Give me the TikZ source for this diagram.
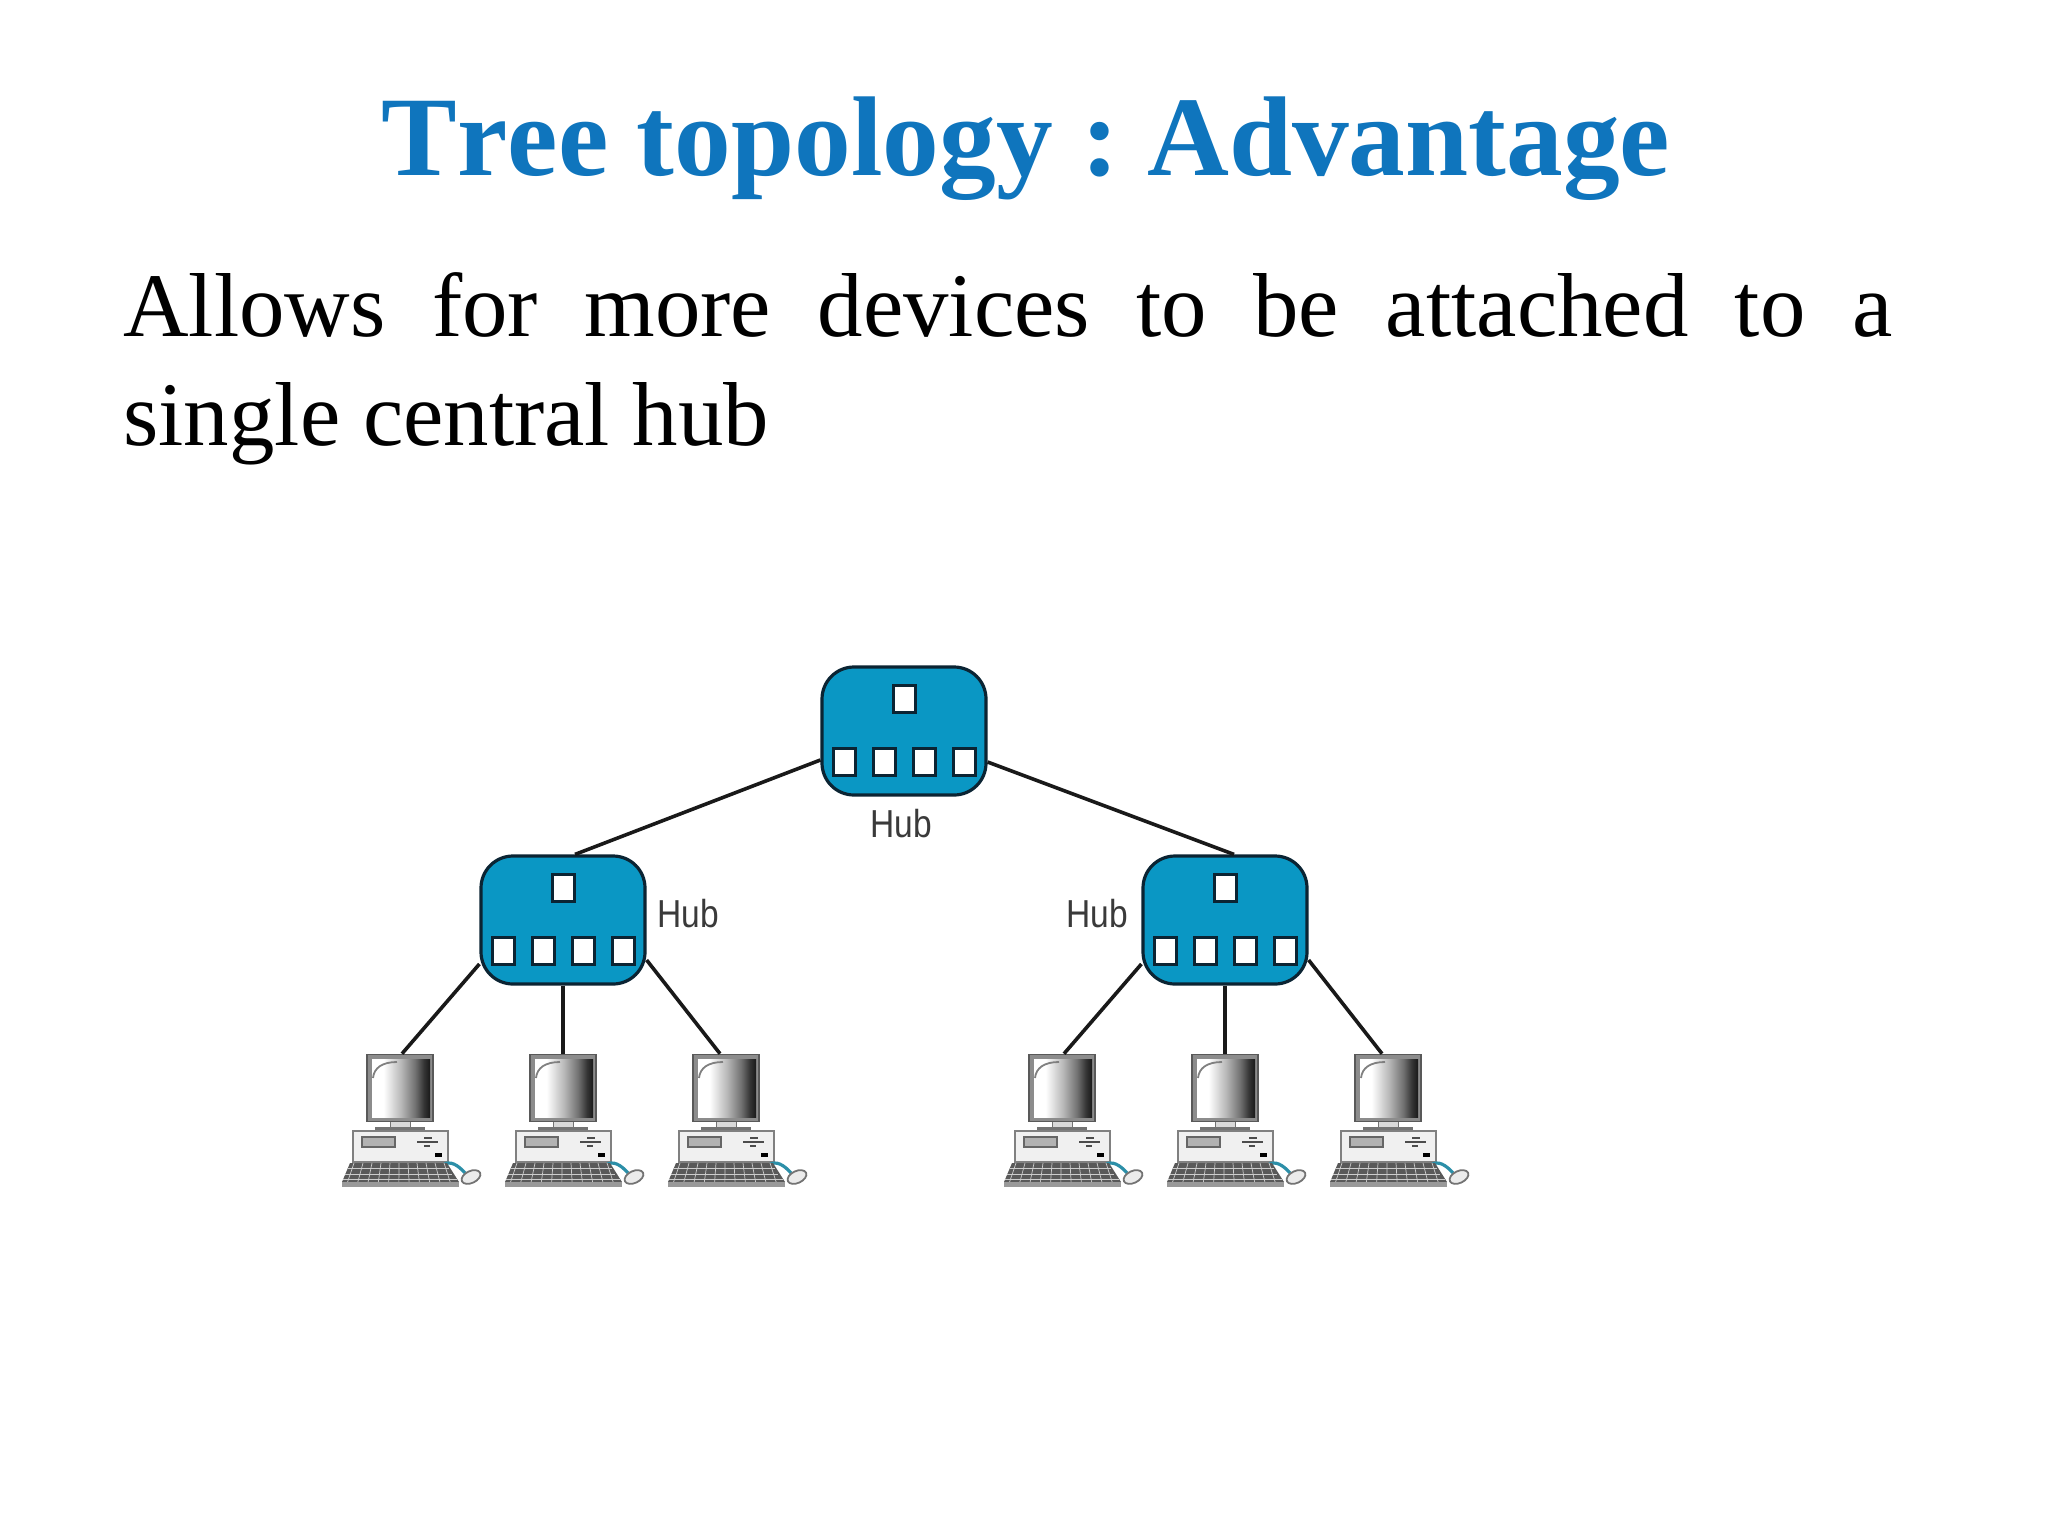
\documentclass[tikz,border=0pt]{standalone}
\usepackage{fontspec}
\setmainfont{Liberation Serif}
\newfontfamily\hubfont{Liberation Sans}
\newfontfamily\titlefont[Kerning=Off]{Liberation Serif Bold}
\definecolor{titleblue}{HTML}{0F75BD}
\definecolor{hubblue}{HTML}{0A97C4}
\definecolor{hubline}{HTML}{0B2433}
\definecolor{hubtext}{HTML}{3A3A3A}
\definecolor{mousecable}{HTML}{2C8FA8}
\pgfdeclarehorizontalshading{crt}{100bp}{
  color(0bp)=(white); color(35bp)=(white); color(50bp)=(black!28); color(62bp)=(black!55); color(70bp)=(black!80); color(75bp)=(black!90); color(100bp)=(black!90)}
\tikzset{
  hubbox/.style={draw=hubline,line width=1.6pt,fill=hubblue,rounded corners=16pt,minimum width=82pt,minimum height=64pt,inner sep=0pt},
  hubport/.style={draw=hubline,line width=1.5pt,fill=white,minimum width=11pt,minimum height=13.5pt,inner sep=0pt},
  hublabel/.style={font=\hubfont\fontsize{19.5}{20}\selectfont,text=hubtext,xscale=.86,inner sep=0pt},
  link/.style={draw=black!90,line width=1.8pt},
  screenframe/.style={draw=black!65,line width=.8pt,fill=black!45,minimum width=33pt,minimum height=33.5pt,inner sep=0pt},
  pics/hub/.style={code={
    \node[hubbox] (-body) at (0,0) {};
    \node[hubport] (-up) at (0,-32) {};
    \node[hubport] (-p1) at (-60,31) {};
    \node[hubport] (-p2) at (-20,31) {};
    \node[hubport] (-p3) at (20,31) {};
    \node[hubport] (-p4) at (60,31) {};
  }},
  pics/computer/.style={code={
    \fill[black!15] (-10,33) rectangle (10,41);
    \draw[black!55,line width=.5pt] (-10,33) -- (-10,41) (10,33) -- (10,41);
    \node[screenframe] (-screen) at (0,1) {};
    \shade[shading=crt] (-28,-28) rectangle (30,30);
    \draw[black!50,line width=.9pt] (-27,-9) .. controls (-26,-19) and (-18,-25) .. (-3,-25);
    \fill[black!55] (-25,40) rectangle (25,45);
    \draw[black!50,fill=black!6,line width=.7pt] (-47,44) rectangle (48,75);
    \draw[black!60,fill=black!30,line width=.6pt] (-38,50) rectangle (-5,60);
    \draw[black!70,line width=1pt] (17,55) -- (38,55) (24,51) -- (32,51) (24,59) -- (30,59);
    \fill[black] (35,66) rectangle (42,70);
    \draw[mousecable,line width=1.6pt] (43,78) .. controls (50,73) and (58,78) .. (65,86);
    \draw[black!55,fill=black!8,line width=.9pt,rotate around={25:(71,90)}] (71,90) ellipse (10 and 6);
    \fill[black!65] (-50,76) -- (47,76) -- (59,95) -- (-58,95) -- cycle;
    \fill[black!40] (-58,95) rectangle (59,100);
    \foreach \k in {-46,-37,...,44} {\draw[white!80!black,line width=.35pt] (\k,76) -- (\k*1.14,95);}
    \foreach \r/\a/\b in {81/-52/49,87/-55/52,92/-57/57} {\draw[white!80!black,line width=.35pt] (\a,\r) -- (\b,\r);}
  }}
}
\begin{document}
\begin{tikzpicture}[x=0.5pt,y=-0.5pt]
\useasboundingbox (0,0) rectangle (2048,1536);
\fill[white] (0,0) rectangle (2048,1536);

\node[anchor=base,inner sep=0pt,text=titleblue,font=\titlefont\fontsize{56.7}{60}\selectfont] (title) at (1026,175) {Tree topology :\ Advantage};
\node[anchor=base west,inner sep=0pt,font=\fontsize{45.4}{54.5}\selectfont] (line1) at (123,336.5) {\hbox to 884.4pt{Allows\hfil for\hfil more\hfil devices\hfil to\hfil be\hfil attached\hfil to\hfil a}};
\node[anchor=base west,inner sep=0pt,font=\fontsize{45.4}{54.5}\selectfont] (line2) at (123,445.5) {single central hub};

\pic (top) at (904,731) {hub};
\pic (left) at (563,920) {hub};
\pic (right) at (1225,920) {hub};

\node[hublabel] (topl) at (901,824) {Hub};
\node[hublabel] (leftl) at (688,914) {Hub};
\node[hublabel] (rightl) at (1097,914) {Hub};

\pic (c1) at (400,1087) {computer};
\pic (c2) at (563,1087) {computer};
\pic (c3) at (726,1087) {computer};
\pic (c4) at (1062,1087) {computer};
\pic (c5) at (1225,1087) {computer};
\pic (c6) at (1388,1087) {computer};

\draw[link] ([yshift=-14.5pt]top-body.west) -- ([xshift=6pt]left-body.north);
\draw[link] ([yshift=-15.5pt]top-body.east) -- ([xshift=4.5pt]right-body.north);
\draw[link] ([yshift=-22pt]left-body.west) -- ([xshift=1pt]c1-screen.north);
\draw[link] (left-body.south) -- (c2-screen.north);
\draw[link] ([yshift=-20pt]left-body.east) -- ([xshift=-3pt]c3-screen.north);
\draw[link] ([yshift=-22pt]right-body.west) -- ([xshift=1pt]c4-screen.north);
\draw[link] (right-body.south) -- (c5-screen.north);
\draw[link] ([yshift=-20pt]right-body.east) -- ([xshift=-3pt]c6-screen.north);
\end{tikzpicture}
\end{document}
